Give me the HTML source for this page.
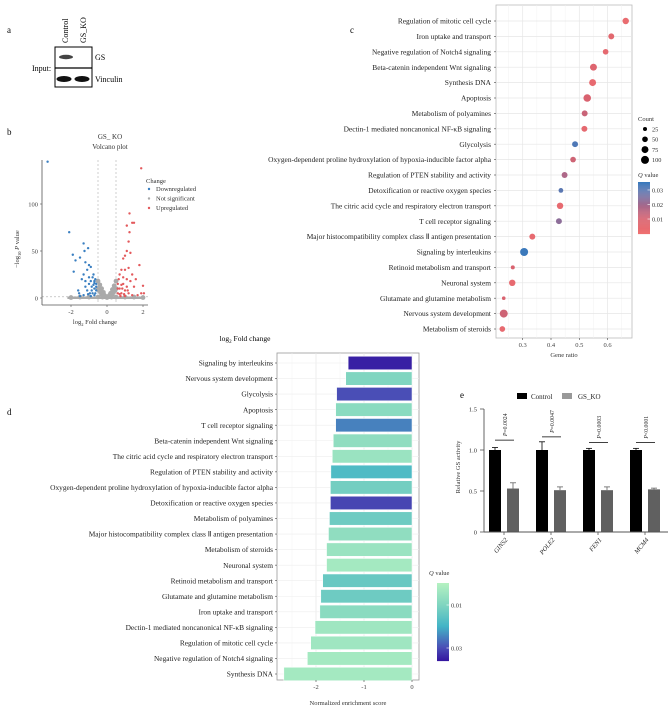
<!DOCTYPE html>
<html><head><meta charset="utf-8"><style>
body{margin:0;background:#fff}
svg{display:block;font-family:"Liberation Serif",serif}
</style></head><body>
<svg id="fig" width="669" height="708" viewBox="0 0 669 708" xmlns="http://www.w3.org/2000/svg">
<g id="pa">
<text x="7" y="33" font-size="9">a</text>
<text transform="translate(68,43) rotate(-90)" font-size="8">Control</text>
<text transform="translate(86,43) rotate(-90)" font-size="8">GS_KO</text>
<rect x="55" y="47" width="37" height="40" fill="#fff" stroke="#000" stroke-width="1"/>
<line x1="55" y1="68" x2="92" y2="68" stroke="#000" stroke-width="1.2"/>
<ellipse cx="66" cy="57" rx="7" ry="2.2" fill="#444"/>
<ellipse cx="64" cy="79" rx="7.5" ry="3" fill="#111"/>
<ellipse cx="82" cy="79" rx="7.5" ry="3" fill="#111"/>
<text x="95" y="60" font-size="8">GS</text>
<text x="95" y="82" font-size="8">Vinculin</text>
<text x="32" y="71" font-size="8">Input:</text>
</g>
<g id="pb"></g>
<g id="pc"></g>
<g id="pd"></g>
<g id="pe"></g>
<text x="245" y="341" font-size="7.5" text-anchor="middle">log<tspan font-size="5" dy="2">2</tspan><tspan dy="-2"> Fold change</tspan></text>
</svg>
<script>
// ---------- Panel b data ----------
const downX=[-3.3,-2.1,-1.9,-1.75,-1.85,-1.5,-1.3,-1.25,-1.05,-1.2,-1.0,-1.1,-0.9,-1.3,-0.8,-1.4,-1.6,-1.55,-1.2,-1.0,-0.9,-0.7,-0.8,-1.1,-0.6,-0.65,-1.3,-0.9,-0.7,-1.5,-1.0,-0.75,-0.6,-1.2,-0.85,-0.7,-0.65,-0.75,-0.85,-0.95,-1.05,-0.7,-0.6];
const downY=[145,70,46,40,28,43,58,50,53,38,35,30,33,25,22,20,8,5,12,15,18,10,5,8,15,20,3,2,3,2,22,25,8,18,12,16,5,14,8,5,4,18,12];
const upX=[1.9,1.25,1.4,1.5,1.1,1.25,1.2,1.1,1.0,1.3,0.9,1.8,0.8,1.0,1.2,0.7,0.9,1.1,1.3,1.5,2.0,1.9,2.05,0.6,0.7,0.8,1.0,1.2,1.4,0.6,1.6,0.9,1.1,1.4,0.75,1.0,1.7,0.65,0.85,0.7,0.8,0.95,1.15,0.6];
const upY=[138,90,80,80,77,70,60,50,45,48,42,35,30,30,32,25,22,20,18,12,13,5,5,15,10,5,8,5,3,5,20,15,12,25,2,2,3,20,10,4,14,4,8,10];
const nsX=[-0.5,-0.4,-0.3,-0.2,-0.1,0,0.1,0.2,0.3,0.4,0.5,-0.45,0.45,-0.3,0.3,-1.5,-1,-0.5,0.5,1,1.5,-2,2,-0.25,0.25,-0.15,0.15,-0.35,0.35,-0.5,0.5];
const nsY=[18,14,10,6,2,0.5,2,5,9,13,18,8,8,4,4,1,1,1,1,1,1,0.5,0.5,1,1,3,3,6,6,10,10];
const volXTicks=[-2,0,2];
const volYTicks=[0,50,100];
// ---------- Panel c data ----------
const cTerms=["Regulation of mitotic cell cycle","Iron uptake and transport","Negative regulation of Notch4 signaling","Beta-catenin independent Wnt signaling","Synthesis DNA","Apoptosis","Metabolism of polyamines","Dectin-1 mediated noncanonical NF-κB signaling","Glycolysis","Oxygen-dependent proline hydroxylation of hypoxia-inducible factor alpha","Regulation of PTEN stability and activity","Detoxification or reactive oxygen species","The citric acid cycle and respiratory electron transport","T cell receptor signaling","Major histocompatibility complex class Ⅱ antigen presentation","Signaling by interleukins","Retinoid metabolism and transport","Neuronal system","Glutamate and glutamine metabolism","Nervous system development","Metabolism of steroids"];
const cRatio=[0.664,0.613,0.593,0.55,0.547,0.528,0.519,0.518,0.485,0.478,0.448,0.435,0.432,0.428,0.334,0.305,0.265,0.263,0.233,0.233,0.228];
const cCount=[65,55,50,75,75,90,55,55,55,50,55,35,65,55,55,100,25,65,20,100,50];
const cQ=[0.003,0.006,0.005,0.008,0.004,0.01,0.013,0.005,0.032,0.012,0.018,0.03,0.004,0.023,0.004,0.035,0.01,0.004,0.01,0.012,0.004];
const cXTicks=[0.3,0.4,0.5,0.6];
const cCountLegend=[25,50,75,100];
const cQTicks=[0.01,0.02,0.03];
// ---------- Panel d data ----------
const dTerms=["Signaling by interleukins","Nervous system development","Glycolysis","Apoptosis","T cell receptor signaling","Beta-catenin independent Wnt signaling","The citric acid cycle and respiratory electron transport","Regulation of PTEN stability and activity","Oxygen-dependent proline hydroxylation of hypoxia-inducible factor alpha","Detoxification or reactive oxygen species","Metabolism of polyamines","Major histocompatibility complex class Ⅱ antigen presentation","Metabolism of steroids","Neuronal system","Retinoid metabolism and transport","Glutamate and glutamine metabolism","Iron uptake and transport","Dectin-1 mediated noncanonical NF-κB signaling","Regulation of mitotic cell cycle","Negative regulation of Notch4 signaling","Synthesis DNA"];
const dNES=[-1.33,-1.38,-1.57,-1.59,-1.59,-1.64,-1.66,-1.69,-1.70,-1.70,-1.72,-1.74,-1.78,-1.78,-1.86,-1.90,-1.92,-2.02,-2.11,-2.18,-2.67];
const dQ=[0.035,0.01,0.03,0.008,0.025,0.007,0.005,0.018,0.012,0.031,0.013,0.007,0.005,0.003,0.014,0.013,0.008,0.004,0.004,0.003,0.003];
const dXTicks=[-2,-1,0];
const dQTicks=[0.01,0.03];
// ---------- Panel e data ----------
const eGenes=["GINS2","POLE2","FEN1","MCM4"];
const eCtrl=[1.0,1.0,1.0,1.0];
const eCtrlErr=[0.03,0.1,0.02,0.02];
const eKO=[0.53,0.51,0.51,0.52];
const eKOErr=[0.07,0.04,0.04,0.015];
const ePvals=["P=0.0024","P=0.0047","P=0.0003","P<0.0001"];
const eSigY=[1.12,1.16,1.09,1.09];
const eYTicks=[0,0.5,1.0,1.5];

const NS="http://www.w3.org/2000/svg";
function mk(parent,tag,attrs,text){const e=document.createElementNS(NS,tag);for(const k in attrs)e.setAttribute(k,attrs[k]);if(text!==undefined)e.textContent=text;parent.appendChild(e);return e;}
function lerpColor(stops,v){if(v<=stops[0][0])return stops[0][1];for(let i=1;i<stops.length;i++){if(v<=stops[i][0]){const t=(v-stops[i-1][0])/(stops[i][0]-stops[i-1][0]);const a=stops[i-1][1],b=stops[i][1];const p=s=>[parseInt(s.substr(1,2),16),parseInt(s.substr(3,2),16),parseInt(s.substr(5,2),16)];const A=p(a),B=p(b);return "rgb("+A.map((c,j)=>Math.round(c+(B[j]-c)*t)).join(",")+")";}}return stops[stops.length-1][1];}

// ===== Panel b =====
(function(){
const g=document.getElementById('pb');
const X=v=>107+v*18, Y=v=>298-v*0.94;
let t=mk(g,'text',{x:7,y:135,'font-size':9});t.textContent='b';


t=mk(g,'text',{x:110,y:139,'font-size':7,'text-anchor':'middle',fill:'#333'},'GS_ KO');


t=mk(g,'text',{x:110,y:149,'font-size':7,'text-anchor':'middle',fill:'#333'},'Volcano plot');


[-0.5,0.5].forEach(v=>{const l=mk(g,'line',{x1:X(v),x2:X(v),y1:160,y2:304,stroke:'#bbb','stroke-dasharray':'2,2','stroke-width':0.7});});
let l=mk(g,'line',{x1:42,x2:148,y1:Y(1.3),y2:Y(1.3),stroke:'#bbb','stroke-dasharray':'2,2','stroke-width':0.7});


mk(g,'line',{x1:X(-2.2),x2:X(2.1),y1:Y(0.3),y2:Y(0.3),stroke:'#aaa','stroke-width':2.5});
nsX.forEach((x,i)=>{const c=mk(g,'circle',{cx:X(x),cy:Y(nsY[i]),r:2.4,fill:'#aaa'});});
downX.forEach((x,i)=>{const c=mk(g,'circle',{cx:X(x),cy:Y(downY[i]),r:1.2,fill:'#3a7fc1'});});
upX.forEach((x,i)=>{const c=mk(g,'circle',{cx:X(x),cy:Y(upY[i]),r:1.2,fill:'#e3595c'});});
l=mk(g,'line',{x1:42,x2:42,y1:160,y2:305,stroke:'#555','stroke-width':0.8});


l=mk(g,'line',{x1:42,x2:148,y1:305,y2:305,stroke:'#555','stroke-width':0.8});


volYTicks.forEach(v=>{mk(g,'line',{x1:40,x2:42,y1:Y(v),y2:Y(v),stroke:'#555','stroke-width':0.6});const tt=mk(g,'text',{x:38,y:Y(v)+2.5,'font-size':6.5,'text-anchor':'end',fill:'#444'},String(v));});
volXTicks.forEach(v=>{mk(g,'line',{x1:X(v),x2:X(v),y1:305,y2:307,stroke:'#555','stroke-width':0.6});const tt=mk(g,'text',{x:X(v),y:314,'font-size':6.5,'text-anchor':'middle',fill:'#444'},String(v));});
t=mk(g,'text',{x:95,y:324,'font-size':6.5,'text-anchor':'middle',fill:'#333'});
t.innerHTML='log<tspan font-size="4.5" dy="2">2</tspan><tspan dy="-2"> Fold change</tspan>';


t=mk(g,'text',{transform:'translate(19,268) rotate(-90)','font-size':6.5,fill:'#333'});
t.innerHTML='−log<tspan font-size="4.5" dy="2">10</tspan><tspan dy="-2"> </tspan><tspan font-style="italic">P</tspan> value';


t=mk(g,'text',{x:146,y:183,'font-size':6.5,fill:'#333'},'Change');


[['Downregulated','#3a7fc1'],['Not significant','#aaa'],['Upregulated','#e3595c']].forEach((e,i)=>{const y=191+i*9.5;mk(g,'circle',{cx:149,cy:y-2,r:1.2,fill:e[1]});const tt=mk(g,'text',{x:156,y:y,'font-size':6.5,fill:'#333'},e[0]);});
})();

// ===== Panel c =====
(function(){
const g=document.getElementById('pc');
const x0=496,x1=632,y0=5,y1=338;
const X=v=>522.7+(v-0.3)*283, Y=i=>21+i*15.4;
const qStops=[[0,'#f07070'],[0.01,'#d9626f'],[0.02,'#a36a8e'],[0.03,'#5b78b2'],[0.036,'#3579bd']];
let t=mk(g,'text',{x:350,y:33,'font-size':9},'c');


let r=mk(g,'rect',{x:x0,y:y0,width:x1-x0,height:y1-y0,fill:'#fff',stroke:'#bbb','stroke-width':0.8});


[0.25,0.35,0.45,0.55,0.65].forEach(v=>mk(g,'line',{x1:X(v),x2:X(v),y1:y0,y2:y1,stroke:'#f2f2f2','stroke-width':0.5}));
cXTicks.forEach(v=>mk(g,'line',{x1:X(v),x2:X(v),y1:y0,y2:y1,stroke:'#e6e6e6','stroke-width':0.7}));
cTerms.forEach((s,i)=>{mk(g,'line',{x1:x0,x2:x1,y1:Y(i),y2:Y(i),stroke:'#e6e6e6','stroke-width':0.7});mk(g,'line',{x1:x0-2,x2:x0,y1:Y(i),y2:Y(i),stroke:'#444','stroke-width':0.6});const tt=mk(g,'text',{x:x0-5,y:Y(i)+2.6,'font-size':7.4,'text-anchor':'end',fill:'#222'},s);});
cRatio.forEach((v,i)=>{const c=mk(g,'circle',{cx:X(v),cy:Y(i),r:0.4*Math.sqrt(cCount[i]),fill:lerpColor(qStops,cQ[i])});});
cXTicks.forEach(v=>{mk(g,'line',{x1:X(v),x2:X(v),y1:y1,y2:y1+2,stroke:'#444','stroke-width':0.6});const tt=mk(g,'text',{x:X(v),y:y1+9,'font-size':6.5,'text-anchor':'middle',fill:'#444'},String(v));});
t=mk(g,'text',{x:564,y:357,'font-size':6.5,'text-anchor':'middle',fill:'#333'},'Gene ratio');


t=mk(g,'text',{x:638,y:121,'font-size':6.5,fill:'#333'},'Count');


cCountLegend.forEach((c,i)=>{const y=129+i*10.3;mk(g,'circle',{cx:645,cy:y,r:0.4*Math.sqrt(c),fill:'#000'});const tt=mk(g,'text',{x:652,y:y+2.3,'font-size':6.3,fill:'#333'},String(c));});
t=mk(g,'text',{x:638,y:177,'font-size':6.5,fill:'#333'});
t.innerHTML='<tspan font-style="italic">Q</tspan> value';


const CY=v=>219-(v-0.01)*1450;
for(let k=0;k<51;k++){const q=0.0355-(0.0355-0.0003)*k/50;mk(g,'rect',{x:638,y:182+k*1.02,width:12,height:1.1,fill:lerpColor(qStops,q)});}
cQTicks.forEach(v=>{mk(g,'line',{x1:647.5,x2:650,y1:CY(v),y2:CY(v),stroke:'#fff','stroke-width':0.6});const tt=mk(g,'text',{x:652,y:CY(v)+2.3,'font-size':6.3,fill:'#333'},String(v));});
})();

// ===== Panel d =====
(function(){
const g=document.getElementById('pd');
const x0=277,x1=419,y0=353,y1=680;
const X=v=>412+v*48, Y=i=>363+i*15.55;
const qStops=[[0,'#b4f1c1'],[0.01,'#80d5c0'],[0.02,'#43b4c6'],[0.03,'#4a4eb6'],[0.036,'#3517a0']];
let t=mk(g,'text',{x:7,y:415,'font-size':9},'d');


let r=mk(g,'rect',{x:x0,y:y0,width:x1-x0,height:y1-y0,fill:'#fff',stroke:'#999','stroke-width':0.8});


[-2.5,-1.5,-0.5].forEach(v=>mk(g,'line',{x1:X(v),x2:X(v),y1:y0,y2:y1,stroke:'#f2f2f2','stroke-width':0.5}));
dXTicks.forEach(v=>mk(g,'line',{x1:X(v),x2:X(v),y1:y0,y2:y1,stroke:'#e6e6e6','stroke-width':0.7}));
dTerms.forEach((s,i)=>{mk(g,'line',{x1:x0,x2:x1,y1:Y(i),y2:Y(i),stroke:'#eee','stroke-width':0.6});mk(g,'line',{x1:x0-2,x2:x0,y1:Y(i),y2:Y(i),stroke:'#444','stroke-width':0.6});const tt=mk(g,'text',{x:x0-4,y:Y(i)+2.6,'font-size':7.4,'text-anchor':'end',fill:'#222'},s);});
dNES.forEach((v,i)=>{const b=mk(g,'rect',{x:X(v),y:Y(i)-6.7,width:X(0)-X(v),height:13.4,fill:lerpColor(qStops,dQ[i]),stroke:'#fff','stroke-width':0.5});});
dXTicks.forEach(v=>{mk(g,'line',{x1:X(v),x2:X(v),y1:y1,y2:y1+2,stroke:'#444','stroke-width':0.6});const tt=mk(g,'text',{x:X(v),y:y1+9,'font-size':6.5,'text-anchor':'middle',fill:'#444'},String(v));});
t=mk(g,'text',{x:348,y:705,'font-size':6.5,'text-anchor':'middle',fill:'#333'},'Normalized enrichment score');


t=mk(g,'text',{x:429,y:575,'font-size':6.5,fill:'#333'});
t.innerHTML='<tspan font-style="italic">Q</tspan> value';


const CY=v=>605+(v-0.01)*2150;
for(let k=0;k<78;k++){const q=0.0+(0.036)*k/77;mk(g,'rect',{x:437,y:583+k,width:12,height:1.1,fill:lerpColor(qStops,q)});}
dQTicks.forEach(v=>{mk(g,'line',{x1:446.5,x2:449,y1:CY(v),y2:CY(v),stroke:'#fff','stroke-width':0.6});const tt=mk(g,'text',{x:451,y:CY(v)+2.3,'font-size':6.3,fill:'#333'},String(v));});
})();

// ===== Panel e =====
(function(){
const g=document.getElementById('pe');
const Y=v=>532-v*82, GX=i=>489+i*47;
let t=mk(g,'text',{x:460,y:398,'font-size':9},'e');


let r=mk(g,'rect',{x:517,y:393,width:10,height:6,fill:'#000'});


t=mk(g,'text',{x:531,y:399,'font-size':7,fill:'#222'},'Control');


r=mk(g,'rect',{x:562,y:393,width:10,height:6,fill:'#999'});


t=mk(g,'text',{x:578,y:399,'font-size':7,fill:'#222'},'GS_KO');


eGenes.forEach((gn,i)=>{
 const cx=GX(i);
 let b=mk(g,'rect',{x:cx,y:Y(eCtrl[i]),width:12,height:Y(0)-Y(eCtrl[i]),fill:'#000'});
 
 
 mk(g,'line',{x1:cx+6,x2:cx+6,y1:Y(eCtrl[i]),y2:Y(eCtrl[i]+eCtrlErr[i]),stroke:'#000','stroke-width':0.8});
 mk(g,'line',{x1:cx+3,x2:cx+9,y1:Y(eCtrl[i]+eCtrlErr[i]),y2:Y(eCtrl[i]+eCtrlErr[i]),stroke:'#000','stroke-width':0.8});
 b=mk(g,'rect',{x:cx+18,y:Y(eKO[i]),width:12,height:Y(0)-Y(eKO[i]),fill:'#606060'});
 
 
 mk(g,'line',{x1:cx+24,x2:cx+24,y1:Y(eKO[i]),y2:Y(eKO[i]+eKOErr[i]),stroke:'#606060','stroke-width':0.8});
 mk(g,'line',{x1:cx+21,x2:cx+27,y1:Y(eKO[i]+eKOErr[i]),y2:Y(eKO[i]+eKOErr[i]),stroke:'#606060','stroke-width':0.8});
 const sl=mk(g,'line',{x1:cx+6,x2:cx+25,y1:Y(eSigY[i]),y2:Y(eSigY[i]),stroke:'#000','stroke-width':0.8});
 
 
 const pt=mk(g,'text',{transform:'translate('+(cx+18)+','+(Y(eSigY[i])-4)+') rotate(-90)','font-size':5.8,fill:'#222'});
 pt.innerHTML='<tspan font-style="italic">P</tspan>'+ePvals[i].slice(1);
 
 
 const gl=mk(g,'text',{transform:'translate('+(cx+19)+',540) rotate(-50)','font-size':6.5,'font-style':'italic','text-anchor':'end',fill:'#222'},gn);
 
 
 mk(g,'line',{x1:cx+15,x2:cx+15,y1:532,y2:535,stroke:'#555','stroke-width':0.8});
});
let a=mk(g,'line',{x1:484,x2:484,y1:Y(1.5),y2:532,stroke:'#555','stroke-width':0.9});


a=mk(g,'line',{x1:484,x2:668,y1:532,y2:532,stroke:'#555','stroke-width':0.9});


eYTicks.forEach(v=>{mk(g,'line',{x1:480,x2:484,y1:Y(v),y2:Y(v),stroke:'#555','stroke-width':0.8});const tt=mk(g,'text',{x:477,y:Y(v)+2.3,'font-size':6.5,'text-anchor':'end',fill:'#333'},v===0?'0':v.toFixed(1));});
t=mk(g,'text',{transform:'translate(460,467) rotate(-90)','font-size':6.5,'text-anchor':'middle',fill:'#333'},'Relative GS activity');


})();
</script>
</body></html>
